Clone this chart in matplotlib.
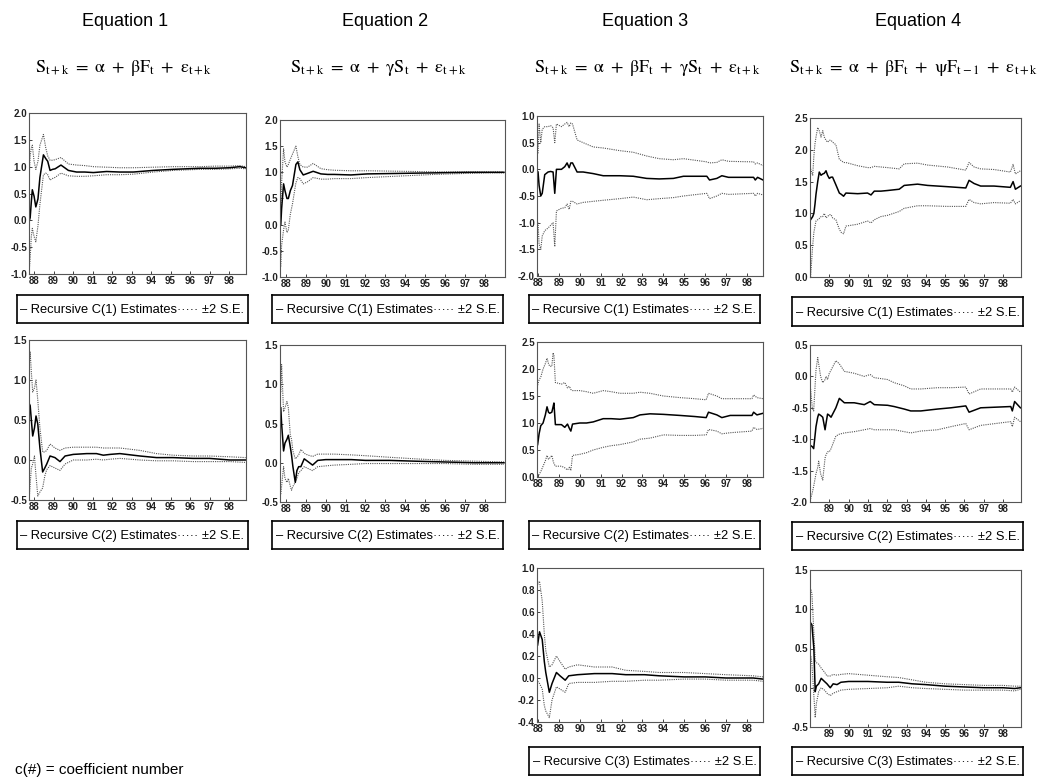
import matplotlib
matplotlib.use("Agg")
import matplotlib.pyplot as plt
import numpy as np

plt.rcParams['mathtext.fontset'] = 'stix'

# ---- data (years as 2-digit) ----
# Equation 1, C(1)
eq1_c1_x = [87.76, 87.80, 87.86, 87.91, 88.0, 88.09, 88.2, 88.3, 88.48, 88.6, 88.70, 88.82, 88.95, 89.08,
            89.38, 89.76, 90.18, 90.6, 91.04, 91.72, 92.4, 93.09, 94.11, 95.13, 96.5, 97.3, 98.03, 98.55, 98.85]
eq1_c1_est = [0.0, 0.05, 0.35, 0.57, 0.45, 0.25, 0.4, 0.8, 1.22, 1.15, 1.1, 0.93, 0.95, 0.96,
              1.03, 0.93, 0.9, 0.9, 0.89, 0.91, 0.9, 0.9, 0.93, 0.95, 0.97, 0.97, 0.98, 1.0, 0.98]
eq1_c1_up = [0.9, 1.2, 1.35, 1.4, 1.1, 0.95, 1.1, 1.4, 1.6, 1.35, 1.2, 1.12, 1.12, 1.13,
             1.17, 1.05, 1.03, 1.02, 1.0, 0.99, 0.98, 0.98, 0.99, 1.0, 1.0, 1.01, 1.01, 1.02, 1.0]
eq1_c1_lo = [-0.9, -0.7, -0.3, -0.15, -0.3, -0.4, -0.1, 0.3, 0.85, 0.88, 0.85, 0.75, 0.78, 0.8,
             0.88, 0.83, 0.82, 0.82, 0.83, 0.85, 0.85, 0.86, 0.9, 0.93, 0.95, 0.95, 0.96, 0.97, 0.96]

# Equation 2, C(1)
eq2_c1_x = [87.74, 87.78, 87.88, 87.95, 88.05, 88.12, 88.22, 88.33, 88.5, 88.6, 88.7, 88.87, 89.09, 89.37,
            89.76, 90.1, 90.43, 91.27, 92.1, 93.78, 95.45, 97.13, 98.2, 98.98]
eq2_c1_est = [0.0, 0.3, 0.78, 0.65, 0.5, 0.5, 0.65, 0.75, 1.15, 1.2, 1.05, 0.95, 0.98, 1.02,
              0.97, 0.96, 0.96, 0.95, 0.97, 0.98, 0.99, 1.0, 1.0, 1.0]
eq2_c1_up = [0.2, 0.8, 1.45, 1.2, 1.1, 1.15, 1.25, 1.35, 1.5, 1.3, 1.15, 1.1, 1.1, 1.17,
             1.07, 1.05, 1.04, 1.03, 1.03, 1.02, 1.01, 1.01, 1.01, 1.01]
eq2_c1_lo = [-0.8, -0.4, -0.1, 0.05, -0.15, -0.1, 0.2, 0.4, 0.8, 0.9, 0.88, 0.78, 0.82, 0.9,
             0.87, 0.87, 0.88, 0.88, 0.9, 0.93, 0.96, 0.98, 0.99, 0.99]

# Equation 3, C(1)
eq3_c1_x = [88.0, 88.05, 88.13, 88.2, 88.32, 88.48, 88.6, 88.72, 88.8, 88.88, 89.12, 89.28, 89.39, 89.49,
            89.57, 89.65, 89.87, 90.16, 90.64, 91.12, 91.92, 92.56, 93.2, 93.8, 94.48, 94.96, 96.08,
            96.21, 96.56, 96.8, 97.12, 98.32, 98.4, 98.51, 98.77]
eq3_c1_est = [-0.05, -0.3, -0.5, -0.45, -0.1, -0.05, -0.04, -0.05, -0.45, 0.0, 0.0, 0.05, 0.12, 0.03,
              0.12, 0.12, -0.05, -0.05, -0.08, -0.12, -0.12, -0.13, -0.17, -0.18, -0.17, -0.13, -0.13,
              -0.2, -0.17, -0.12, -0.15, -0.15, -0.2, -0.15, -0.2]
eq3_c1_up = [0.3, 0.85, 0.5, 0.75, 0.8, 0.8, 0.82, 0.78, 0.5, 0.85, 0.8, 0.85, 0.88, 0.8,
             0.87, 0.85, 0.55, 0.5, 0.42, 0.4, 0.35, 0.32, 0.25, 0.2, 0.18, 0.2, 0.14,
             0.12, 0.13, 0.18, 0.15, 0.14, 0.1, 0.12, 0.07]
eq3_c1_lo = [-1.0, -1.4, -1.5, -1.25, -1.15, -1.1, -1.05, -1.0, -1.45, -0.78, -0.73, -0.72, -0.65, -0.75,
             -0.6, -0.6, -0.65, -0.62, -0.6, -0.58, -0.55, -0.52, -0.57, -0.55, -0.53, -0.5, -0.45,
             -0.55, -0.5, -0.45, -0.47, -0.45, -0.5, -0.45, -0.48]

# Equation 4, C(1)
eq4_c1_x = [88.03, 88.14, 88.2, 88.26, 88.31, 88.4, 88.48, 88.57, 88.66, 88.74, 88.83, 88.91, 89.0, 89.09,
            89.17, 89.34, 89.52, 89.62, 89.74, 89.86, 90.47, 90.98, 91.16, 91.33, 91.67, 92.02, 92.62,
            92.88, 93.57, 94.09, 95.12, 96.07, 96.24, 96.5, 96.84, 97.53, 98.38, 98.52, 98.64, 98.9]
eq4_c1_est = [0.9, 0.95, 1.0, 1.15, 1.3, 1.5, 1.65, 1.6, 1.62, 1.63, 1.67, 1.6, 1.55, 1.57,
              1.57, 1.45, 1.32, 1.3, 1.27, 1.32, 1.31, 1.32, 1.29, 1.35, 1.35, 1.36, 1.38,
              1.44, 1.46, 1.44, 1.42, 1.4, 1.52, 1.47, 1.43, 1.43, 1.41, 1.5, 1.38, 1.43]
eq4_c1_up = [1.7, 1.6, 1.9, 2.1, 2.2, 2.35, 2.3, 2.2, 2.3, 2.2, 2.15, 2.12, 2.15, 2.15,
             2.12, 2.08, 1.85, 1.83, 1.8, 1.8, 1.75, 1.72, 1.72, 1.74, 1.73, 1.72, 1.7,
             1.78, 1.79, 1.76, 1.73, 1.68, 1.8, 1.73, 1.7, 1.69, 1.65, 1.77, 1.62, 1.67]
eq4_c1_lo = [0.0, 0.5, 0.7, 0.8, 0.88, 0.9, 0.92, 0.95, 0.95, 1.0, 0.93, 0.95, 0.98, 0.98,
             0.93, 0.9, 0.75, 0.7, 0.68, 0.8, 0.83, 0.88, 0.85, 0.9, 0.95, 0.97, 1.03,
             1.08, 1.12, 1.12, 1.11, 1.11, 1.22, 1.17, 1.15, 1.17, 1.16, 1.22, 1.15, 1.2]

# Equation 1, C(2)
eq1_c2_x = [87.76, 87.8, 87.86, 87.93, 88.02, 88.1, 88.19, 88.3, 88.44, 88.55, 88.65, 88.82, 89.07, 89.33,
            89.59, 90.01, 90.7, 91.2, 91.55, 91.9, 92.4, 93.43, 94.28, 95.13, 96.16, 97.0, 98.04, 98.85]
eq1_c2_est = [0.7, 0.68, 0.5, 0.3, 0.4, 0.55, 0.45, 0.15, -0.15, -0.1, -0.05, 0.05, 0.03, -0.02,
              0.05, 0.07, 0.08, 0.08, 0.06, 0.07, 0.08, 0.05, 0.03, 0.03, 0.02, 0.02, 0.0, 0.0]
eq1_c2_up = [1.2, 1.35, 1.1, 0.85, 0.9, 1.0, 0.75, 0.4, 0.1, 0.1, 0.12, 0.2, 0.15, 0.12,
             0.15, 0.16, 0.16, 0.16, 0.15, 0.15, 0.15, 0.12, 0.08, 0.06, 0.05, 0.05, 0.04, 0.03]
eq1_c2_lo = [-0.45, -0.3, -0.1, -0.05, 0.05, -0.2, -0.45, -0.4, -0.35, -0.2, -0.12, -0.07, -0.1, -0.13,
             -0.05, 0.0, 0.0, 0.01, 0.0, 0.01, 0.02, 0.0, -0.01, -0.01, -0.02, -0.02, -0.02, -0.03]

# Equation 2, C(2)
eq2_c2_x = [87.74, 87.78, 87.88, 87.95, 88.05, 88.12, 88.22, 88.28, 88.35, 88.47, 88.55, 88.64, 88.75,
            88.92, 89.08, 89.34, 89.6, 90.0, 90.43, 91.3, 92.0, 93.2, 94.5, 96.0, 97.5, 98.98]
eq2_c2_est = [0.7, 0.5, 0.15, 0.25, 0.3, 0.35, 0.2, 0.1, -0.05, -0.25, -0.1, -0.05, -0.05,
              0.05, 0.02, -0.03, 0.03, 0.04, 0.04, 0.04, 0.03, 0.03, 0.02, 0.01, 0.0, 0.0]
eq2_c2_up = [0.9, 1.25, 0.65, 0.7, 0.78, 0.7, 0.35, 0.3, 0.15, 0.05, 0.07, 0.1, 0.17,
             0.12, 0.1, 0.08, 0.11, 0.11, 0.11, 0.1, 0.09, 0.07, 0.05, 0.03, 0.02, 0.01]
eq2_c2_lo = [-0.4, -0.3, -0.05, -0.2, -0.25, -0.2, -0.3, -0.35, -0.3, -0.25, -0.2, -0.13, -0.1,
             -0.05, -0.07, -0.1, -0.05, -0.04, -0.03, -0.02, -0.01, -0.01, -0.01, -0.01, -0.02, -0.02]

# Equation 3, C(2)
eq3_c2_x = [87.98, 88.05, 88.13, 88.24, 88.35, 88.43, 88.5, 88.56, 88.66, 88.72, 88.76, 88.83, 89.12,
            89.28, 89.41, 89.5, 89.57, 89.65, 90.0, 90.32, 90.64, 91.12, 91.5, 91.92, 92.56, 92.88,
            93.36, 94.0, 94.8, 95.5, 96.05, 96.16, 96.56, 96.8, 97.2, 98.24, 98.32, 98.48, 98.77]
eq3_c2_est = [0.6, 0.8, 0.95, 1.0, 1.15, 1.3, 1.2, 1.18, 1.2, 1.3, 1.37, 0.97, 0.97,
              0.92, 0.98, 0.9, 0.85, 0.98, 1.0, 1.0, 1.02, 1.08, 1.08, 1.07, 1.1, 1.15,
              1.17, 1.16, 1.14, 1.12, 1.1, 1.2, 1.15, 1.1, 1.14, 1.14, 1.2, 1.15, 1.18]
eq3_c2_up = [1.7, 1.8, 1.85, 2.0, 2.1, 2.2, 2.1, 2.05, 2.05, 2.3, 2.25, 1.75, 1.72,
             1.75, 1.65, 1.68, 1.62, 1.6, 1.6, 1.58, 1.55, 1.6, 1.58, 1.55, 1.55, 1.57,
             1.55, 1.5, 1.47, 1.45, 1.43, 1.55, 1.5, 1.45, 1.45, 1.45, 1.52, 1.47, 1.45]
eq3_c2_lo = [0.0, 0.05, 0.1, 0.2, 0.3, 0.4, 0.33, 0.35, 0.4, 0.3, 0.25, 0.2, 0.2,
             0.17, 0.13, 0.18, 0.12, 0.4, 0.42, 0.45, 0.5, 0.55, 0.58, 0.6, 0.65, 0.7,
             0.72, 0.78, 0.77, 0.77, 0.78, 0.88, 0.85, 0.8, 0.82, 0.85, 0.92, 0.88, 0.9]

# Equation 4, C(2)
eq4_c2_x = [88.03, 88.12, 88.19, 88.31, 88.4, 88.45, 88.55, 88.66, 88.78, 88.83, 88.91, 89.0, 89.09,
            89.34, 89.52, 89.78, 90.29, 90.81, 91.12, 91.33, 92.02, 92.36, 92.88, 93.22, 93.74, 94.6,
            95.3, 96.07, 96.24, 96.84, 98.4, 98.48, 98.6, 98.9]
eq4_c2_est = [-1.1, -1.12, -1.15, -0.8, -0.65, -0.6, -0.62, -0.65, -0.85, -0.75, -0.6, -0.62, -0.65,
              -0.5, -0.35, -0.42, -0.42, -0.45, -0.4, -0.45, -0.46, -0.48, -0.52, -0.55, -0.55, -0.52,
              -0.5, -0.47, -0.57, -0.5, -0.48, -0.55, -0.4, -0.5]
eq4_c2_up = [-0.2, -0.5, -0.55, 0.1, 0.3, 0.2, 0.0, -0.1, -0.05, 0.0, -0.05, 0.05, 0.1,
             0.25, 0.2, 0.08, 0.05, 0.0, 0.03, -0.02, -0.05, -0.1, -0.15, -0.2, -0.2, -0.18,
             -0.18, -0.17, -0.28, -0.2, -0.2, -0.25, -0.17, -0.25]
eq4_c2_lo = [-1.95, -1.85, -1.75, -1.55, -1.45, -1.35, -1.55, -1.65, -1.3, -1.25, -1.2, -1.2, -1.15,
             -0.95, -0.92, -0.9, -0.88, -0.85, -0.83, -0.85, -0.85, -0.85, -0.88, -0.9, -0.87, -0.85,
             -0.8, -0.75, -0.85, -0.78, -0.72, -0.8, -0.65, -0.72]

# Equation 3, C(3)
eq3_c3_x = [87.98, 88.07, 88.2, 88.3, 88.37, 88.54, 88.67, 88.88, 89.05, 89.3, 89.47, 89.89, 90.7,
            91.55, 92.2, 93.1, 93.8, 95.0, 96.0, 97.0, 98.3, 98.77]
eq3_c3_est = [0.3, 0.42, 0.35, 0.15, 0.05, -0.13, -0.05, 0.05, 0.02, -0.02, 0.02, 0.03, 0.04,
              0.04, 0.03, 0.03, 0.02, 0.01, 0.01, 0.0, 0.0, -0.01]
eq3_c3_up = [0.85, 0.88, 0.7, 0.4, 0.25, 0.1, 0.12, 0.2, 0.15, 0.08, 0.1, 0.12, 0.1,
             0.1, 0.07, 0.06, 0.05, 0.05, 0.04, 0.03, 0.02, 0.01]
eq3_c3_lo = [-0.03, -0.05, -0.1, -0.25, -0.3, -0.36, -0.2, -0.08, -0.1, -0.13, -0.05, -0.04, -0.04,
             -0.03, -0.03, -0.02, -0.02, -0.01, -0.01, -0.02, -0.02, -0.03]

# Equation 4, C(3)
eq4_c3_x = [88.05, 88.1, 88.2, 88.27, 88.33, 88.45, 88.58, 88.75, 88.88, 89.05, 89.2, 89.4, 89.6,
            90.0, 91.0, 92.0, 92.6, 93.3, 94.0, 95.0, 96.0, 97.0, 98.0, 98.6, 98.9]
eq4_c3_est = [0.82, 0.8, 0.5, -0.05, 0.02, 0.05, 0.12, 0.08, 0.05, 0.0, 0.05, 0.04, 0.07,
              0.08, 0.08, 0.07, 0.07, 0.05, 0.04, 0.02, 0.01, 0.0, 0.0, -0.01, 0.0]
eq4_c3_up = [1.25, 1.2, 0.7, 0.35, 0.32, 0.3, 0.25, 0.2, 0.15, 0.15, 0.17, 0.16, 0.17,
             0.18, 0.16, 0.14, 0.13, 0.1, 0.07, 0.05, 0.04, 0.03, 0.03, 0.02, 0.02]
eq4_c3_lo = [0.4, 0.3, -0.1, -0.38, -0.2, -0.05, 0.0, -0.03, -0.07, -0.1, -0.07, -0.05, -0.03,
             -0.02, -0.01, 0.0, 0.02, 0.0, -0.01, -0.02, -0.03, -0.03, -0.03, -0.04, -0.02]

titles = ["Equation 1", "Equation 2", "Equation 3", "Equation 4"]
equations = [
    r"$\mathrm{S_{t+k}\ =\ \alpha\ +\ \beta F_{t}\ +\ \epsilon_{t+k}}$",
    r"$\mathrm{S_{t+k}\ =\ \alpha\ +\ \gamma S_{t}\ +\ \epsilon_{t+k}}$",
    r"$\mathrm{S_{t+k}\ =\ \alpha\ +\ \beta F_{t}\ +\ \gamma S_{t}\ +\ \epsilon_{t+k}}$",
    r"$\mathrm{S_{t+k}\ =\ \alpha\ +\ \beta F_{t}\ +\ \psi F_{t-1}\ +\ \epsilon_{t+k}}$",
]
year_ticks = [88, 89, 90, 91, 92, 93, 94, 95, 96, 97, 98]

W, H = 1047, 783
fig = plt.figure(figsize=(W / 100, H / 100), dpi=100)
fig.patch.set_facecolor('white')


def px_axes(l, t, r, b):
    return fig.add_axes([l / W, 1 - b / H, (r - l) / W, (b - t) / H])


tick_font = dict(family=['Liberation Sans', 'DejaVu Sans'], size=7, weight='bold')
leg_font = ['Liberation Sans', 'DejaVu Sans']

# (x, est, up, lo, coef no, yticks, xlim, axes box px, legend box px)
panels = [
    (eq1_c1_x, eq1_c1_est, eq1_c1_up, eq1_c1_lo, 1, np.arange(-1.0, 2.01, 0.5), (87.74, 98.87),
     (29, 113, 246, 274), (17, 295, 248, 323)),
    (eq2_c1_x, eq2_c1_est, eq2_c1_up, eq2_c1_lo, 1, np.arange(-1.0, 2.01, 0.5), (87.7, 99.03),
     (280, 120, 505, 277), (272, 295, 503, 323)),
    (eq3_c1_x, eq3_c1_est, eq3_c1_up, eq3_c1_lo, 1, np.arange(-2.0, 1.01, 0.5), (87.95, 98.77),
     (537, 116, 763, 276), (529, 295, 760, 323)),
    (eq4_c1_x, eq4_c1_est, eq4_c1_up, eq4_c1_lo, 1, np.arange(0.0, 2.51, 0.5), (88.0, 98.93),
     (810, 118, 1021, 277), (792, 297, 1023, 326)),
    (eq1_c2_x, eq1_c2_est, eq1_c2_up, eq1_c2_lo, 2, np.arange(-0.5, 1.51, 0.5), (87.74, 98.87),
     (29, 340, 246, 500), (17, 521, 248, 549)),
    (eq2_c2_x, eq2_c2_est, eq2_c2_up, eq2_c2_lo, 2, np.arange(-0.5, 1.51, 0.5), (87.7, 99.03),
     (280, 345, 505, 502), (272, 521, 503, 549)),
    (eq3_c2_x, eq3_c2_est, eq3_c2_up, eq3_c2_lo, 2, np.arange(0.0, 2.51, 0.5), (87.95, 98.77),
     (537, 342, 763, 477), (529, 521, 760, 549)),
    (eq4_c2_x, eq4_c2_est, eq4_c2_up, eq4_c2_lo, 2, np.arange(-2.0, 0.51, 0.5), (88.0, 98.93),
     (810, 345, 1021, 502), (792, 522, 1023, 550)),
    (eq3_c3_x, eq3_c3_est, eq3_c3_up, eq3_c3_lo, 3, np.arange(-0.4, 1.01, 0.2), (87.95, 98.77),
     (537, 568, 763, 722), (529, 747, 760, 775)),
    (eq4_c3_x, eq4_c3_est, eq4_c3_up, eq4_c3_lo, 3, np.arange(-0.5, 1.51, 0.5), (88.0, 98.93),
     (810, 570, 1021, 727), (792, 747, 1023, 775)),
]

for x, est, up, lo, k, yt, xl, box, lbox in panels:
    ax = px_axes(*box)
    ax.plot(x, up, color='#555555', lw=0.8, ls=(0, (1, 1)))
    ax.plot(x, lo, color='#555555', lw=0.8, ls=(0, (1, 1)))
    ax.plot(x, est, color='black', lw=1.1)
    ax.set_xlim(*xl)
    ax.set_ylim(yt[0], yt[-1])
    ax.set_yticks(yt)
    ax.set_yticklabels([f"{v:.1f}" for v in yt], **tick_font)
    xt = year_ticks if xl[0] < 87.99 else year_ticks[1:]
    ax.set_xticks(xt)
    ax.set_xticklabels([str(t) for t in xt], **tick_font)
    ax.tick_params(direction='in', length=2, width=0.6, pad=1.5, colors='#222222')
    for s in ax.spines.values():
        s.set_linewidth(0.8)
        s.set_color('#555555')

    lax = px_axes(*lbox)
    lax.set_xticks([])
    lax.set_yticks([])
    for s in lax.spines.values():
        s.set_linewidth(1.2)
        s.set_color('black')
    lax.text(0.5, 0.46, f"\u2013 Recursive C({k}) Estimates\u00b7\u00b7\u00b7\u00b7\u00b7 \u00b12 S.E.",
             ha='center', va='center', fontsize=9.3, family=leg_font, transform=lax.transAxes)

title_x = [125, 385, 645, 918]
eq_x = [124, 378, 647, 914]
for i in range(4):
    fig.text(title_x[i] / W, 1 - 22 / H, titles[i], ha='center', va='center',
             fontsize=13, family=['Liberation Sans', 'DejaVu Sans'])
    fig.text(eq_x[i] / W, 1 - 68 / H, equations[i], ha='center', va='center', fontsize=13)

fig.text(15 / W, 1 - 770 / H, "c(#) = coefficient number", ha='left', va='center',
         fontsize=11, family=['Liberation Sans', 'DejaVu Sans'])

fig.savefig("out.png", dpi=100)
